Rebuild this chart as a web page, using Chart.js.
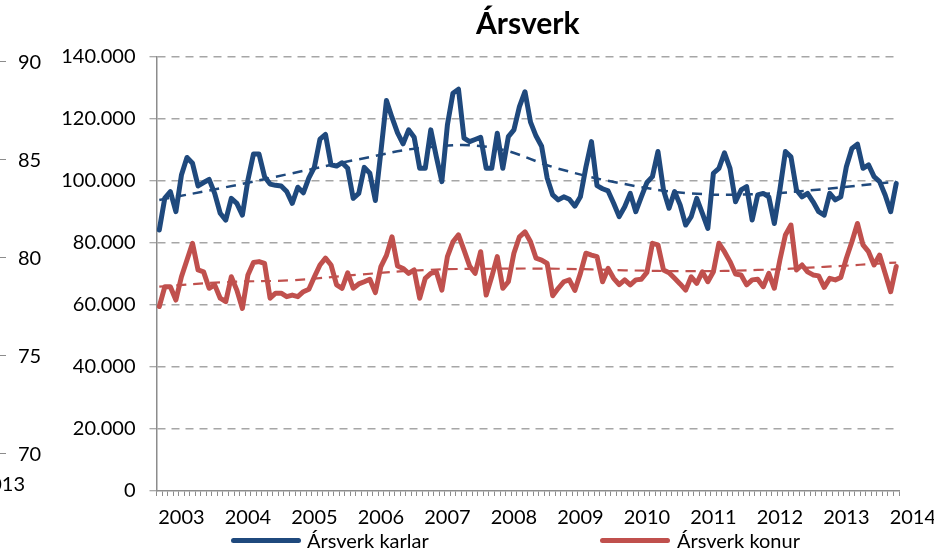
<!DOCTYPE html>
<html><head><meta charset="utf-8">
<script src="https://cdn.jsdelivr.net/npm/chart.js@4/dist/chart.umd.min.js"></script>
<style>
html,body{margin:0;padding:0;background:#fff;}
#wrap{position:relative;width:934px;height:553px;overflow:hidden;font-family:Lato,"Open Sans",sans-serif;color:#000;}
#c{position:absolute;left:0;top:0;}
.fl{position:absolute;font-size:20px;line-height:24px;white-space:nowrap;}
.ft{position:absolute;left:0;width:6px;height:1px;background:#8c8c8c;}
.sw{position:absolute;width:70px;height:5px;border-radius:3px;}
</style></head><body>
<div id="wrap">
<canvas id="c" width="934" height="553"></canvas>
<div id="frag"></div>
<div id="legend"></div>
</div>
<script>
// ---- data ----
const seriesNames = ['Ársverk karlar', 'Ársverk konur'];
const yearLabels = ['2003','2004','2005','2006','2007','2008','2009','2010','2011','2012','2013','2014'];
const karlar = [
 84200,94500,96600,90100,101900,107600,105700,98400,99500,100500,96000,89600,
 87400,94400,92800,89000,100300,108700,108700,101400,99000,98600,98400,96600,
 92800,98000,96200,101000,104500,113500,115000,105200,104800,105900,104100,94400,
 96000,104400,102500,93700,109500,126000,120500,115500,112000,116500,114100,104100,
 104100,116500,107800,99800,118100,128300,129600,113800,112700,113400,114100,104100,
 104100,115400,104100,114300,116500,124000,128800,119000,114500,111200,101000,95500,
 93900,94900,94100,91900,94900,104500,112700,98500,97500,96800,92800,88500,
 91700,96000,90100,94900,99500,101400,109500,97100,91200,96600,92300,85800,
 88500,94400,89600,84700,102500,104100,109100,104100,93300,97100,98200,87400,
 95500,96000,94900,86300,97100,109500,107800,97100,94900,96000,93300,90100,
 89000,96000,93900,94900,104600,110500,111900,104100,105200,101400,99800,95500,
 90100,99200
];
const konur = [
 59500,65900,65900,61600,69100,74500,79900,71300,70700,65400,66500,62200,
 61100,69100,64800,58900,69700,73700,74000,73400,62200,63800,63800,62700,
 63200,62700,64300,65100,69100,72900,75100,72900,66500,65400,70400,65400,
 66800,67500,68300,64000,72400,76000,82000,72600,71800,70200,71300,62200,
 68600,70200,70700,64800,75600,80400,82600,77700,72600,70200,77200,63200,
 69100,75600,65400,67500,76700,82000,83600,80400,75100,74500,73400,63000,
 65400,67500,68100,64700,70200,76700,76100,75600,67500,71800,68600,66600,
 68100,66500,68100,68300,70500,79900,79400,71300,70400,68600,66800,64800,
 69100,67000,70700,67500,70700,79900,77200,74000,70000,69700,66500,68100,
 68300,65900,70200,65400,74500,82600,85800,71300,72900,70700,69700,69400,
 65700,68600,68100,68900,75100,80400,86300,79400,77200,72900,76100,70200,
 64300,72400
];
// trend lines (dashed), read at selected months
const trendMonths = [0,12,24,36,48,60,72,84,96,108,120,133];
const trendKarlar = [93900,98000,102500,107000,110800,110800,104000,99000,96000,95800,97400,99800];
const trendKonur  = [65900,67400,68000,69800,71300,71700,71700,71200,70900,71300,72300,73700];
// partial neighbouring chart on the left edge
const fragTicks = ['90','85','80','75','70'];

// ---- styles ----
const BLUE = '#1F497D', RED = '#C0504D', GRID = '#a6a6a6', AXIS = '#8c8c8c';
const FONT = 'Lato, "Open Sans", sans-serif';

// left fragment
const frag = document.getElementById('frag');
fragTicks.forEach((t, k) => {
  const y = 61 + k * 98;
  frag.insertAdjacentHTML('beforeend',
    `<div class="ft" style="top:${y}px"></div><div class="fl" style="left:18px;top:${y-12}px">${t}</div>`);
});
frag.insertAdjacentHTML('beforeend', `<div class="fl" style="right:909px;top:471px">2013</div>`);

// HTML legend
const lg = document.getElementById('legend');
const lgPos = [[231, 307], [600, 677]];
[BLUE, RED].forEach((col, k) => {
  lg.insertAdjacentHTML('beforeend',
    `<div class="sw" style="left:${lgPos[k][0]}px;top:538px;background:${col}"></div>` +
    `<div class="fl" style="left:${lgPos[k][1]}px;top:528px">${seriesNames[k]}</div>`);
});

const N = karlar.length;
const boundaryTicks = [];
for (let k = 0; k <= N; k++) boundaryTicks.push({value: k - 0.5});
const yearTicks = yearLabels.map((_, k) => ({value: 4 + 12 * k}));

new Chart(document.getElementById('c'), {
  type: 'line',
  data: {
    datasets: [
      {label: 'trend karlar', data: trendMonths.map((m, k) => ({x: m, y: trendKarlar[k]})),
       borderColor: BLUE, borderWidth: 2.5, borderDash: [10, 7], pointRadius: 0, tension: 0.4, fill: false},
      {label: 'trend konur', data: trendMonths.map((m, k) => ({x: m, y: trendKonur[k]})),
       borderColor: RED, borderWidth: 2.2, borderDash: [10, 7], pointRadius: 0, tension: 0.4, fill: false},
      {label: seriesNames[0], data: karlar.map((v, i) => ({x: i, y: v})),
       borderColor: BLUE, borderWidth: 5, pointRadius: 0, tension: 0, borderJoinStyle: 'round', borderCapStyle: 'round', fill: false},
      {label: seriesNames[1], data: konur.map((v, i) => ({x: i, y: v})),
       borderColor: RED, borderWidth: 5, pointRadius: 0, tension: 0, borderJoinStyle: 'round', borderCapStyle: 'round', fill: false}
    ]
  },
  options: {
    responsive: false,
    animation: false,
    events: [],
    layout: {padding: {left: 56, right: 35, top: 0, bottom: 22}},
    plugins: {
      legend: {display: false},
      tooltip: {enabled: false},
      title: {display: true, text: 'Ársverk', fullSize: false, color: '#000',
              font: {family: FONT, size: 30, weight: 'bold'}, padding: {top: 6, bottom: 15}}
    },
    scales: {
      x: {
        type: 'linear', min: -0.5, max: N - 0.5,
        afterBuildTicks: s => { s.ticks = boundaryTicks.concat(yearTicks); },
        afterFit: s => { s.height = 40; s.paddingLeft = 0; s.paddingRight = 0; },
        ticks: {autoSkip: false, maxRotation: 0, padding: 10, color: '#000',
                font: {family: FONT, size: 20},
                callback: v => { const k = (v - 4) / 12; return Number.isInteger(k) ? yearLabels[k] : ''; }},
        grid: {drawOnChartArea: false, drawTicks: true, tickLength: 5, tickWidth: 1,
               tickColor: c => (c.tick && Number.isInteger(c.tick.value)) ? 'rgba(0,0,0,0)' : AXIS},
        border: {color: AXIS, width: 1.5}
      },
      y: {
        min: 0, max: 140000,
        afterFit: s => { s.width = 100.5; },
        ticks: {stepSize: 20000, padding: 14, color: '#000', font: {family: FONT, size: 20},
                callback: v => v === 0 ? '0' : (v / 1000) + '.000'},
        grid: {color: c => (c.tick && c.tick.value === 0) ? 'rgba(0,0,0,0)' : GRID, lineWidth: 1.5,
               tickLength: 7, tickColor: AXIS, tickWidth: 1},
        border: {color: AXIS, width: 1.5, dash: [8, 6]}
      }
    }
  }
});
</script>
</body></html>
